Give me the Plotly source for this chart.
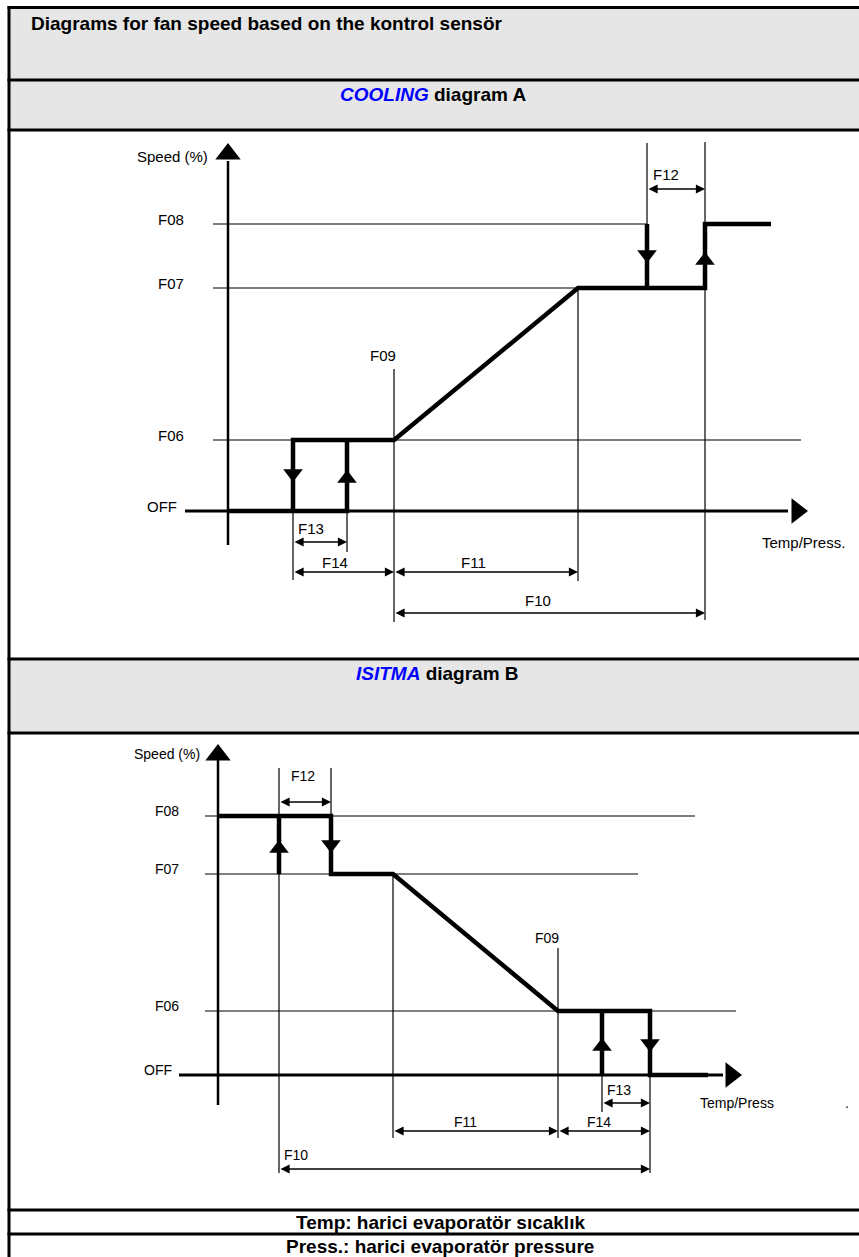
import plotly.graph_objects as go

W, H = 859, 1257

# ---------------- data (diagram units: x = temp/press, y = speed) ----------------
LEVEL_NAMES = ["OFF", "F06", "F07", "F08"]

# Diagram A (COOLING)
A_LEVELS = [0, 71, 223, 287]          # OFF, F06, F07, F08
A_F13 = [65, 119]                      # hysteresis band at F06
A_F09 = 166                            # start of ramp
A_F11_END = 350                        # end of ramp (F09 + F11)
A_F12 = [419, 477]                     # hysteresis band at F08
A_END = 543                            # end of curve

# Diagram B (ISITMA)
B_LEVELS = [0, 64, 201, 259]
B_F12 = [61, 113]
B_F11_START = 175
B_F09 = 340
B_F13 = [384, 432]
B_END = 490

HEADERS = ["Diagrams for fan speed based on the kontrol sensör",
           "COOLING", "diagram A", "ISITMA", "diagram B",
           "Temp: harici evaporatör sıcaklık",
           "Press.: harici evaporatör pressure"]

# ---------------- styling ----------------
BLACK = "#000000"
GRAY = "#e6e6e6"
BLUE = "#0000ff"
HFONT = "Liberation Sans, Arial, Helvetica"
DFONT = "Liberation Sans, Arial, Helvetica"
THICK = 4.5
THIN = 1.2


def px(x):
    return x / W


def py(y):
    return 1 - y / H


fig = go.Figure()
shapes = []
annotations = []

# ---------------- table frame ----------------
rows = [7.5, 80, 130, 659, 733, 1210, 1234]
for (y0, y1) in [(7.5, 80), (80, 130), (659, 733)]:
    shapes.append(dict(type="rect", xref="paper", yref="paper", x0=px(9), x1=1.01,
                       y0=py(y1), y1=py(y0), fillcolor=GRAY, line=dict(width=0), layer="below"))
for y in rows:
    shapes.append(dict(type="line", xref="paper", yref="paper", x0=px(7.5), x1=1.01,
                       y0=py(y), y1=py(y), line=dict(color=BLACK, width=3)))
shapes.append(dict(type="line", xref="paper", yref="paper", x0=px(9), x1=px(9),
                   y0=py(6), y1=-0.01, line=dict(color=BLACK, width=3)))

hf = dict(family=HFONT, size=19, color=BLACK)
CX = 437
annotations.append(dict(xref="paper", yref="paper", x=px(29), y=py(23), xanchor="left",
                        yanchor="middle", showarrow=False, text="<b>%s</b>" % HEADERS[0], font=hf))
annotations.append(dict(xref="paper", yref="paper", x=px(CX - 4), y=py(94), xanchor="center",
                        yanchor="middle", showarrow=False,
                        text="<b><i><span style='color:%s'>%s</span></i> %s</b>" % (BLUE, HEADERS[1], HEADERS[2]),
                        font=hf))
annotations.append(dict(xref="paper", yref="paper", x=px(CX), y=py(673), xanchor="center",
                        yanchor="middle", showarrow=False,
                        text="<b><i><span style='color:%s'>%s</span></i> %s</b>" % (BLUE, HEADERS[3], HEADERS[4]),
                        font=hf))
annotations.append(dict(xref="paper", yref="paper", x=px(CX + 3), y=py(1222), xanchor="center",
                        yanchor="middle", showarrow=False, text="<b>%s</b>" % HEADERS[5], font=hf))
annotations.append(dict(xref="paper", yref="paper", x=px(CX + 3), y=py(1246), xanchor="center",
                        yanchor="middle", showarrow=False, text="<b>%s</b>" % HEADERS[6], font=hf))


def hline(xr, yr, x0, x1, y, w=THIN):
    shapes.append(dict(type="line", xref=xr, yref=yr, x0=x0, x1=x1, y0=y, y1=y,
                       line=dict(color=BLACK, width=w)))


def vline(xr, yr, x, y0, y1, w=THIN):
    shapes.append(dict(type="line", xref=xr, yref=yr, x0=x, x1=x, y0=y0, y1=y1,
                       line=dict(color=BLACK, width=w)))


def dim(xr, yr, x0, x1, y):
    annotations.append(dict(xref=xr, yref=yr, axref=xr, ayref=yr, x=x1, y=y, ax=x0, ay=y,
                            text="", showarrow=True, arrowhead=2, arrowside="end+start",
                            arrowsize=1.3, arrowwidth=1.4, arrowcolor=BLACK, standoff=0,
                            startstandoff=0))


def label(xr, yr, x, y, t, size, anchor="center"):
    annotations.append(dict(xref=xr, yref=yr, x=x, y=y, text=t, showarrow=False,
                            xanchor=anchor, yanchor="middle",
                            font=dict(family=DFONT, size=size, color=BLACK)))


def curve(xa, ya, xs, ys):
    fig.add_trace(go.Scatter(x=xs, y=ys, xaxis=xa, yaxis=ya, mode="lines",
                             line=dict(color=BLACK, width=THICK), hoverinfo="skip",
                             showlegend=False, cliponaxis=False))


def marks(xa, ya, xs, ys, symbols, size):
    fig.add_trace(go.Scatter(x=xs, y=ys, xaxis=xa, yaxis=ya, mode="markers",
                             marker=dict(symbol=symbols, size=size, color=BLACK,
                                         line=dict(width=0)),
                             hoverinfo="skip", showlegend=False, cliponaxis=False))


# ---------------- Diagram A ----------------
OFF, F06, F07, F08 = A_LEVELS
xr, yr = "x", "y"
fa = 15
hline(xr, yr, -15, A_F12[0], F08)
hline(xr, yr, -15, A_F11_END, F07)
hline(xr, yr, -15, 573, F06)
vline(xr, yr, A_F09, 142, -111)
vline(xr, yr, A_F11_END, F07, -70)
vline(xr, yr, A_F12[0], 368, F08)
vline(xr, yr, A_F12[1], 369, -109)
vline(xr, yr, A_F13[0], OFF, -69)
vline(xr, yr, A_F13[1], OFF, -41)
hline(xr, yr, -43, 560, OFF, w=3)
vline(xr, yr, 0, -34, 350, w=2.5)
marks(xr, yr, [0, 569], [357, OFF], ["triangle-up", "triangle-right"], 22)
curve(xr, yr,
      [0, A_F13[1], A_F13[1], None, A_F13[0], A_F13[0], A_F09, A_F11_END, A_F12[1], A_F12[1], A_END,
       None, A_F12[0], A_F12[0]],
      [OFF, OFF, F06, None, OFF, F06, F06, F07, F07, F08, F08, None, F08, F07])
marks(xr, yr, [A_F13[0], A_F13[1], A_F12[0], A_F12[1]], [37.5, 32.5, 256.5, 250.5],
      ["triangle-down", "triangle-up", "triangle-down", "triangle-up"], 17)
dim(xr, yr, A_F12[0], A_F12[1], 322)
dim(xr, yr, A_F13[0], A_F13[1], -31)
dim(xr, yr, A_F13[0], A_F09, -61)
dim(xr, yr, A_F09, A_F11_END, -61)
dim(xr, yr, A_F09, A_F12[1], -102)
label(xr, yr, A_F12[0] + 4, 337, "F12", fa, "left")
label(xr, yr, A_F13[0] + 3, -17, "F13", fa, "left")
label(xr, yr, 107, -51, "F14", fa)
label(xr, yr, 245, -51, "F11", fa)
label(xr, yr, 310, -89, "F10", fa)
label(xr, yr, -56, 355, "Speed (%)", fa)
for name, lv in zip(LEVEL_NAMES, A_LEVELS):
    label(xr, yr, -57 if name != "OFF" else -66, lv + 5, name, fa)
label(xr, yr, 155, 156, "F09", fa)
label(xr, yr, 575, -31, "Temp/Press.", fa)

# ---------------- Diagram B ----------------
OFF, F06, F07, F08 = B_LEVELS
xr, yr = "x2", "y2"
fb = 14
hline(xr, yr, -13, 477, F08)
hline(xr, yr, -13, 420, F07)
hline(xr, yr, -13, 518, F06)
vline(xr, yr, B_F12[0], 307, -98)
vline(xr, yr, B_F12[1], 307, F08)
vline(xr, yr, B_F11_START, F07, -63)
vline(xr, yr, B_F09, 127, -63)
vline(xr, yr, B_F13[0], OFF, -37)
vline(xr, yr, B_F13[1], F06, -98)
hline(xr, yr, -39, 505, OFF, w=3)
vline(xr, yr, 0, -30, 315, w=2.5)
marks(xr, yr, [0, 513], [320, OFF], ["triangle-up", "triangle-right"], 22)
curve(xr, yr,
      [0, B_F12[1], B_F12[1], B_F11_START, B_F09, B_F13[1], B_F13[1], B_END,
       None, B_F12[0], B_F12[0], None, B_F13[0], B_F13[0]],
      [F08, F08, F07, F07, F06, F06, OFF, OFF, None, F07, F08, None, OFF, F06])
marks(xr, yr, [B_F12[0], B_F12[1], B_F13[0], B_F13[1]], [226.5, 230.5, 28.5, 31.5],
      ["triangle-up", "triangle-down", "triangle-up", "triangle-down"], 17)
dim(xr, yr, B_F12[0], B_F12[1], 273)
dim(xr, yr, B_F13[0], B_F13[1], -28)
dim(xr, yr, B_F11_START, B_F09, -56)
dim(xr, yr, B_F09, B_F13[1], -56)
dim(xr, yr, B_F12[0], B_F13[1], -94)
label(xr, yr, 85, 299, "F12", fb)
label(xr, yr, B_F13[0] + 3, -15, "F13", fb, "left")
label(xr, yr, 247, -47, "F11", fb)
label(xr, yr, 381, -47, "F14", fb)
label(xr, yr, B_F12[0] + 3, -80, "F10", fb, "left")
label(xr, yr, -51, 321, "Speed (%)", fb)
for name, lv in zip(LEVEL_NAMES, B_LEVELS):
    label(xr, yr, -51 if name != "OFF" else -60, lv + 5, name, fb)
label(xr, yr, 329, 137, "F09", fb)
label(xr, yr, 519, -28, "Temp/Press", fb)
label(xr, yr, 629, -28, ".", fb)

ax_common = dict(visible=False, showgrid=False, zeroline=False, fixedrange=True)
fig.update_layout(
    width=W, height=H,
    margin=dict(l=0, r=0, t=0, b=0),
    paper_bgcolor="white", plot_bgcolor="rgba(0,0,0,0)",
    showlegend=False,
    xaxis=dict(ax_common, domain=[0, 1], range=[-228, 631], anchor="y"),
    yaxis=dict(ax_common, domain=[py(655), py(131)], range=[-144, 380], anchor="x"),
    xaxis2=dict(ax_common, domain=[0, 1], range=[-218, 641], anchor="y2"),
    yaxis2=dict(ax_common, domain=[py(1210), py(733)], range=[-135, 342], anchor="x2"),
    shapes=shapes,
    annotations=annotations,
)

fig.write_html("out.html", config={"displayModeBar": False},
               post_script="document.body.style.margin='0px';document.body.style.overflow='hidden';")
